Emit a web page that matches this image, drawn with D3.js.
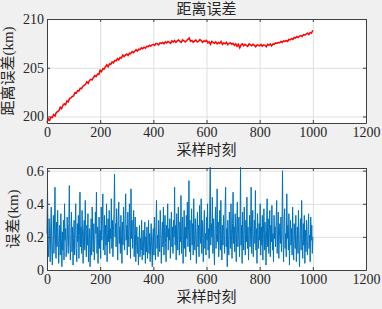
<!DOCTYPE html>
<html>
<head>
<meta charset="utf-8">
<script src="https://cdn.jsdelivr.net/npm/d3@7"></script>
<style>
  body { margin: 0; background: #f0f0f0; }
  svg { display: block; }
  text { font-family: "Liberation Serif", "Noto Sans CJK SC", serif; fill: #262626; }
</style>
</head>
<body>
<div id="chart"></div>
<script>
// 距离误差 (km), read every 5 samples from 0 to 1000
const topStep = 5;
const rangeErr = [
  199.35, 199.75, 199.6, 199.95, 199.9, 200.2, 200.05, 200.4, 200.5, 200.6, 200.95, 200.8, 201.15, 201.3, 201.2, 201.6, 201.5, 201.85, 201.9, 202.05,
  202.1, 202.45, 202.4, 202.65, 202.6, 202.9, 202.85, 203.1, 203.2, 203.3, 203.55, 203.4, 203.7, 203.8, 203.75, 204.0, 204.2, 204.1, 204.35, 204.3,
  204.75, 204.6, 204.9, 204.85, 205.1, 205.3, 205.1, 205.4, 205.35, 205.6, 205.5, 205.75, 205.7, 205.95, 205.8, 206.05, 206.0, 206.3, 206.15, 206.3,
  206.4, 206.25, 206.5, 206.45, 206.65, 206.55, 206.7, 206.85, 206.7, 206.9, 206.85, 207.05, 206.95, 207.1, 207.0, 207.2, 207.15, 207.3, 207.2, 207.35,
  207.4, 207.3, 207.5, 207.45, 207.35, 207.55, 207.5, 207.6, 207.45, 207.65, 207.55, 207.7, 207.6, 207.5, 207.75, 207.65, 207.8, 207.6, 207.75, 207.85,
  207.7, 207.6, 207.85, 207.75, 207.65, 207.8, 207.9, 208.05, 207.7, 207.8, 207.6, 207.75, 207.85, 207.65, 207.7, 207.9, 207.8, 207.6, 207.75, 207.7,
  207.8, 207.55, 207.65, 207.4, 207.7, 207.6, 207.5, 207.65, 207.45, 207.6, 207.5, 207.7, 207.4, 207.55, 207.45, 207.6, 207.35, 207.5, 207.55, 207.4,
  207.5, 207.3, 207.45, 207.2, 207.4, 207.05, 207.35, 207.45, 207.25, 207.4, 207.3, 207.2, 207.45, 207.35, 207.25, 207.4, 207.3, 207.15, 207.35, 207.3,
  207.25, 207.4, 207.2, 207.35, 207.3, 207.15, 207.4, 207.3, 207.45, 207.25, 207.45, 207.4, 207.55, 207.5, 207.6, 207.55, 207.7, 207.6, 207.75, 207.7,
  207.8, 207.7, 207.9, 207.85, 208.0, 207.9, 208.1, 208.05, 208.2, 208.1, 208.25, 208.3, 208.2, 208.4, 208.35, 208.45, 208.55, 208.4, 208.6, 208.55,
  208.85
];

// 误差 (km), read every 2 samples from 0 to 1000
const botStep = 2;
const errKm = [
  0.22, 0.49, 0.15, 0.08, 0.31, 0.2, 0.05, 0.26, 0.38, 0.12,
  0.03, 0.18, 0.33, 0.1, 0.24, 0.5, 0.17, 0.07, 0.29, 0.14,
  0.36, 0.21, 0.04, 0.16, 0.27, 0.09, 0.34, 0.19, 0.02, 0.23,
  0.12, 0.3, 0.06, 0.4, 0.18, 0.25, 0.08, 0.14, 0.32, 0.2,
  0.1, 0.28, 0.51, 0.15, 0.06, 0.22, 0.35, 0.11, 0.26, 0.03,
  0.19, 0.3, 0.09, 0.24, 0.4, 0.13, 0.05, 0.28, 0.17, 0.33,
  0.07, 0.21, 0.47, 0.14, 0.26, 0.1, 0.36, 0.19, 0.04, 0.23,
  0.3, 0.12, 0.42, 0.2, 0.08, 0.27, 0.15, 0.34, 0.05, 0.18,
  0.25, 0.02, 0.14, 0.31, 0.09, 0.38, 0.2, 0.11, 0.28, 0.06,
  0.16, 0.35, 0.22, 0.47, 0.1, 0.26, 0.04, 0.19, 0.32, 0.13,
  0.24, 0.07, 0.38, 0.18, 0.29, 0.46, 0.12, 0.21, 0.33, 0.09,
  0.27, 0.15, 0.4, 0.05, 0.22, 0.31, 0.17, 0.36, 0.1, 0.25,
  0.19, 0.43, 0.13, 0.3, 0.08, 0.24, 0.35, 0.58, 0.2, 0.28,
  0.14, 0.37, 0.22, 0.06, 0.3, 0.41, 0.16, 0.26, 0.1, 0.33,
  0.2, 0.04, 0.29, 0.15, 0.38, 0.23, 0.12, 0.31, 0.46, 0.18,
  0.27, 0.09, 0.35, 0.21, 0.14, 0.4, 0.25, 0.07, 0.49, 0.19,
  0.3, 0.13, 0.24, 0.36, 0.08, 0.22, 0.32, 0.05, 0.18, 0.26,
  0.1, 0.2, 0.03, 0.15, 0.27, 0.08, 0.19, 0.12, 0.3, 0.06,
  0.17, 0.24, 0.09, 0.14, 0.29, 0.04, 0.2, 0.11, 0.26, 0.07,
  0.15, 0.3, 0.1, 0.22, 0.05, 0.18, 0.28, 0.12, 0.02, 0.2,
  0.25, 0.09, 0.32, 0.16, 0.06, 0.27, 0.42, 0.13, 0.21, 0.08,
  0.3, 0.18, 0.11, 0.36, 0.24, 0.04, 0.19, 0.29, 0.14, 0.38,
  0.09, 0.23, 0.33, 0.16, 0.05, 0.27, 0.2, 0.4, 0.12, 0.25,
  0.18, 0.31, 0.07, 0.22, 0.35, 0.14, 0.26, 0.1, 0.3, 0.2,
  0.5, 0.15, 0.27, 0.06, 0.34, 0.21, 0.12, 0.38, 0.24, 0.09,
  0.29, 0.17, 0.45, 0.1, 0.23, 0.32, 0.04, 0.2, 0.36, 0.13,
  0.26, 0.08, 0.33, 0.19, 0.41, 0.14, 0.24, 0.54, 0.11, 0.3,
  0.06, 0.22, 0.37, 0.15, 0.28, 0.09, 0.43, 0.2, 0.12, 0.31,
  0.18, 0.04, 0.25, 0.35, 0.14, 0.27, 0.08, 0.39, 0.21, 0.16,
  0.43, 0.1, 0.3, 0.19, 0.05, 0.26, 0.36, 0.13, 0.22, 0.09,
  0.32, 0.18, 0.4, 0.12, 0.25, 0.07, 0.35, 0.62, 0.15, 0.28,
  0.2, 0.44, 0.1, 0.31, 0.16, 0.03, 0.27, 0.38, 0.13, 0.22,
  0.49, 0.17, 0.29, 0.08, 0.24, 0.36, 0.12, 0.42, 0.19, 0.06,
  0.27, 0.15, 0.33, 0.21, 0.1, 0.38, 0.5, 0.14, 0.25, 0.02,
  0.3, 0.18, 0.09, 0.35, 0.22, 0.13, 0.4, 0.2, 0.07, 0.28,
  0.47, 0.16, 0.26, 0.11, 0.34, 0.2, 0.05, 0.29, 0.41, 0.14,
  0.23, 0.32, 0.08, 0.19, 0.62, 0.15, 0.27, 0.04, 0.35, 0.2,
  0.12, 0.38, 0.24, 0.09, 0.3, 0.17, 0.44, 0.13, 0.26, 0.06,
  0.21, 0.33, 0.14, 0.27, 0.5, 0.1, 0.23, 0.36, 0.08, 0.19,
  0.3, 0.16, 0.48, 0.12, 0.25, 0.04, 0.34, 0.21, 0.13, 0.28,
  0.18, 0.4, 0.09, 0.26, 0.15, 0.33, 0.06, 0.22, 0.37, 0.12,
  0.29, 0.19, 0.03, 0.24, 0.43, 0.14, 0.31, 0.1, 0.2, 0.36,
  0.08, 0.27, 0.17, 0.39, 0.12, 0.22, 0.05, 0.33, 0.19, 0.26,
  0.14, 0.3, 0.42, 0.1, 0.23, 0.35, 0.07, 0.2, 0.28, 0.16,
  0.32, 0.11, 0.24, 0.6, 0.18, 0.05, 0.29, 0.37, 0.13, 0.22,
  0.08, 0.46, 0.19, 0.27, 0.12, 0.34, 0.03, 0.21, 0.3, 0.15,
  0.25, 0.09, 0.38, 0.17, 0.06, 0.28, 0.2, 0.13, 0.33, 0.05,
  0.18, 0.26, 0.1, 0.36, 0.14, 0.02, 0.23, 0.31, 0.12, 0.42,
  0.19, 0.07, 0.28, 0.15, 0.33, 0.04, 0.24, 0.11, 0.3, 0.17,
  0.09, 0.26, 0.34, 0.13, 0.21, 0.05, 0.32, 0.18, 0.27, 0.1,
  0.2
];

const xTicks = [0, 200, 400, 600, 800, 1000, 1200];
const topYTicks = [200, 205, 210];
const botYTicks = [0, 0.2, 0.4, 0.6];

const W = 382, H = 309;
const left = 47, right = 366;

const svg = d3.select('#chart').append('svg')
  .attr('width', W).attr('height', H);
svg.append('rect').attr('width', W).attr('height', H).attr('fill', '#f0f0f0');

function drawPanel(cfg) {
  const x = d3.scaleLinear().domain([0, 1200]).range([left, right]);
  const y = d3.scaleLinear().domain(cfg.yDomain).range([cfg.bottom, cfg.top]);

  const g = svg.append('g');
  g.append('rect')
    .attr('x', left).attr('y', cfg.top)
    .attr('width', right - left).attr('height', cfg.bottom - cfg.top)
    .attr('fill', '#fff');

  // grid
  g.append('g')
    .attr('transform', 'translate(0,' + cfg.bottom + ')')
    .call(d3.axisBottom(x).tickValues(xTicks).tickSize(-(cfg.bottom - cfg.top)).tickFormat(''))
    .call(a => a.select('.domain').remove())
    .call(a => a.selectAll('line').attr('stroke', '#dfdfdf'));
  g.append('g')
    .attr('transform', 'translate(' + left + ',0)')
    .call(d3.axisLeft(y).tickValues(cfg.yTicks).tickSize(-(right - left)).tickFormat(''))
    .call(a => a.select('.domain').remove())
    .call(a => a.selectAll('line').attr('stroke', '#dfdfdf'));

  // data line
  const line = d3.line()
    .x((d, i) => x(i * cfg.step))
    .y(d => y(d));
  g.append('path')
    .datum(cfg.values)
    .attr('fill', 'none')
    .attr('stroke', cfg.color)
    .attr('stroke-width', cfg.width)
    .attr('d', line);

  // axes with inward ticks, MATLAB box
  const tk = 3;
  const styleAxis = a => {
    a.select('.domain').attr('stroke', '#404040');
    a.selectAll('.tick line').attr('stroke', '#404040');
    a.selectAll('text').attr('font-size', 14).attr('fill', '#262626')
      .attr('font-family', '"Liberation Serif", serif');
  };
  g.append('g')
    .attr('transform', 'translate(0,' + cfg.bottom + ')')
    .call(d3.axisBottom(x).tickValues(xTicks).tickSizeInner(-tk).tickSizeOuter(0).tickPadding(4).tickFormat(d3.format('d')))
    .call(styleAxis);
  g.append('g')
    .attr('transform', 'translate(0,' + cfg.top + ')')
    .call(d3.axisTop(x).tickValues(xTicks).tickSizeInner(-tk).tickSizeOuter(0).tickFormat(''))
    .call(styleAxis);
  g.append('g')
    .attr('transform', 'translate(' + left + ',0)')
    .call(d3.axisLeft(y).tickValues(cfg.yTicks).tickSizeInner(-tk).tickSizeOuter(0).tickPadding(3).tickFormat(cfg.fmt))
    .call(styleAxis);
  g.append('g')
    .attr('transform', 'translate(' + right + ',0)')
    .call(d3.axisRight(y).tickValues(cfg.yTicks).tickSizeInner(-tk).tickSizeOuter(0).tickFormat(''))
    .call(styleAxis);

  g.append('text')
    .attr('x', (left + right) / 2).attr('y', cfg.bottom + 29)
    .attr('text-anchor', 'middle').attr('dominant-baseline', 'middle')
    .attr('font-size', 15)
    .text('采样时刻');

  g.append('text')
    .attr('transform', 'translate(' + cfg.ylabX + ',' + (cfg.top + cfg.bottom) / 2 + ') rotate(-90)')
    .attr('text-anchor', 'middle').attr('dominant-baseline', 'middle')
    .attr('font-size', 15)
    .text(cfg.ylabel);

  if (cfg.title) {
    g.append('text')
      .attr('x', (left + right) / 2).attr('y', cfg.top - 8)
      .attr('text-anchor', 'middle').attr('dominant-baseline', 'middle')
      .attr('font-size', 15)
      .text(cfg.title);
  }
}

drawPanel({
  values: rangeErr, step: topStep, yDomain: [199.33, 210], yTicks: topYTicks, top: 19, bottom: 123,
  color: '#ff0000', width: 1.5, fmt: d3.format('d'),
  ylabel: '距离误差(km)', ylabX: 10, title: '距离误差'
});

drawPanel({
  values: errKm, step: botStep, yDomain: [0, 0.616], yTicks: botYTicks, top: 168, bottom: 270,
  color: '#0072bd', width: 1, fmt: d => d === 0 ? '0' : d3.format('.1f')(d),
  ylabel: '误差(km)', ylabX: 15
});
</script>
</body>
</html>
